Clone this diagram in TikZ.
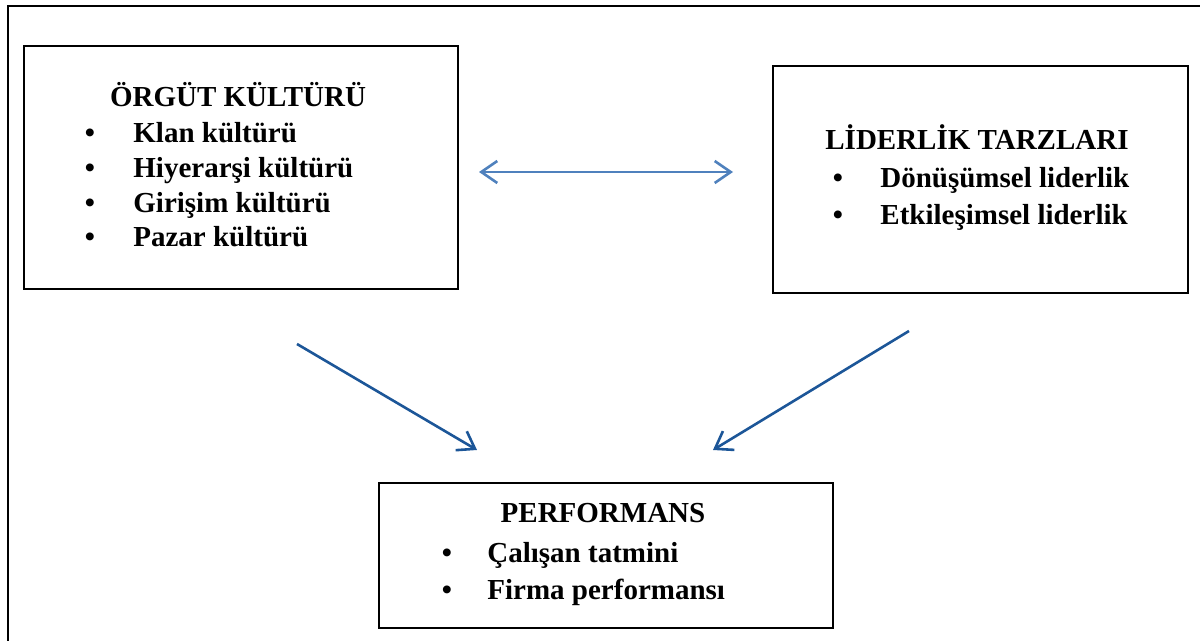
\documentclass[tikz,border=0pt]{standalone}
\usepackage{fontspec}
\setmainfont{Liberation Serif}
\usetikzlibrary{arrows.meta}
\definecolor{pairblue}{RGB}{79,129,189}
\definecolor{linkblue}{RGB}{28,86,152}
\newcommand{\boxfont}{\fontsize{14.5}{17.5}\selectfont\bfseries}
\tikzset{
  panel/.style={draw, line width=1.2pt, anchor=north west, inner sep=0pt},
  heading/.style={anchor=base, inner sep=0pt, font=\boxfont},
  entry/.style={anchor=base west, inner sep=0pt, font=\boxfont},
  dot/.style={anchor=base, inner sep=0pt, font=\boxfont},
  barb/.tip={Straight Barb[length=8pt,width=11pt,line width=1.3pt]},
  link/.style={draw=linkblue, line width=1.3pt, -barb},
  pairlink/.style={draw=pairblue, line width=1.3pt, barb-barb},
}

\begin{document}
\begin{tikzpicture}[x=0.5pt, y=-0.5pt]
    \useasboundingbox (0,0) rectangle (1200,641);
    \draw[line width=1pt] (8,641) -- (8,6) -- (1200,6) ; % frame

    % boxes
    \node[panel, minimum width=217pt, minimum height=121.5pt] (culture) at (23,45) {};
    \node[panel, minimum width=207.5pt, minimum height=113.5pt] (leader) at (772,65) {};
    \node[panel, minimum width=227pt, minimum height=72.5pt] (perf) at (378,482) {};

    % texts
    \node[heading] (cultureT) at (238,107) {ÖRGÜT KÜLTÜRÜ};
    \foreach \txt [count=\i] in {Klan kültürü, Hiyerarşi kültürü, Girişim kültürü, Pazar kültürü} {
        \node[dot] (cultureB\i) at (90,108+34.7*\i) {\textbullet};
        \node[entry] (cultureE\i) at (133,108+34.7*\i) {\txt};
    }
    \node[heading] (leaderT) at (977,150) {LİDERLİK TARZLARI};
    \foreach \txt [count=\i] in {Dönüşümsel liderlik, Etkileşimsel liderlik} {
        \node[dot] (leaderB\i) at (838,151+37*\i) {\textbullet};
        \node[entry] (leaderE\i) at (880,151+37*\i) {\txt};
    }
    \node[heading] (perfT) at (603,523) {PERFORMANS};
    \foreach \txt [count=\i] in {Çalışan tatmini, Firma performansı} {
        \node[dot] (perfB\i) at (447,525+37*\i) {\textbullet};
        \node[entry] (perfE\i) at (487,525+37*\i) {\txt};
    }

    % arrows
    \coordinate (pairL) at (479,172);
    \coordinate (pairR) at (733,172);
    \coordinate (fromC) at (297,344);
    \coordinate (toC) at (477,450);
    \coordinate (fromL) at (909,331);
    \coordinate (toL) at (713,450);
    \draw[pairlink] (pairL) -- (pairR);
    \draw[link] (fromC) -- (toC);
    \draw[link] (fromL) -- (toL);
\end{tikzpicture}
\end{document}
